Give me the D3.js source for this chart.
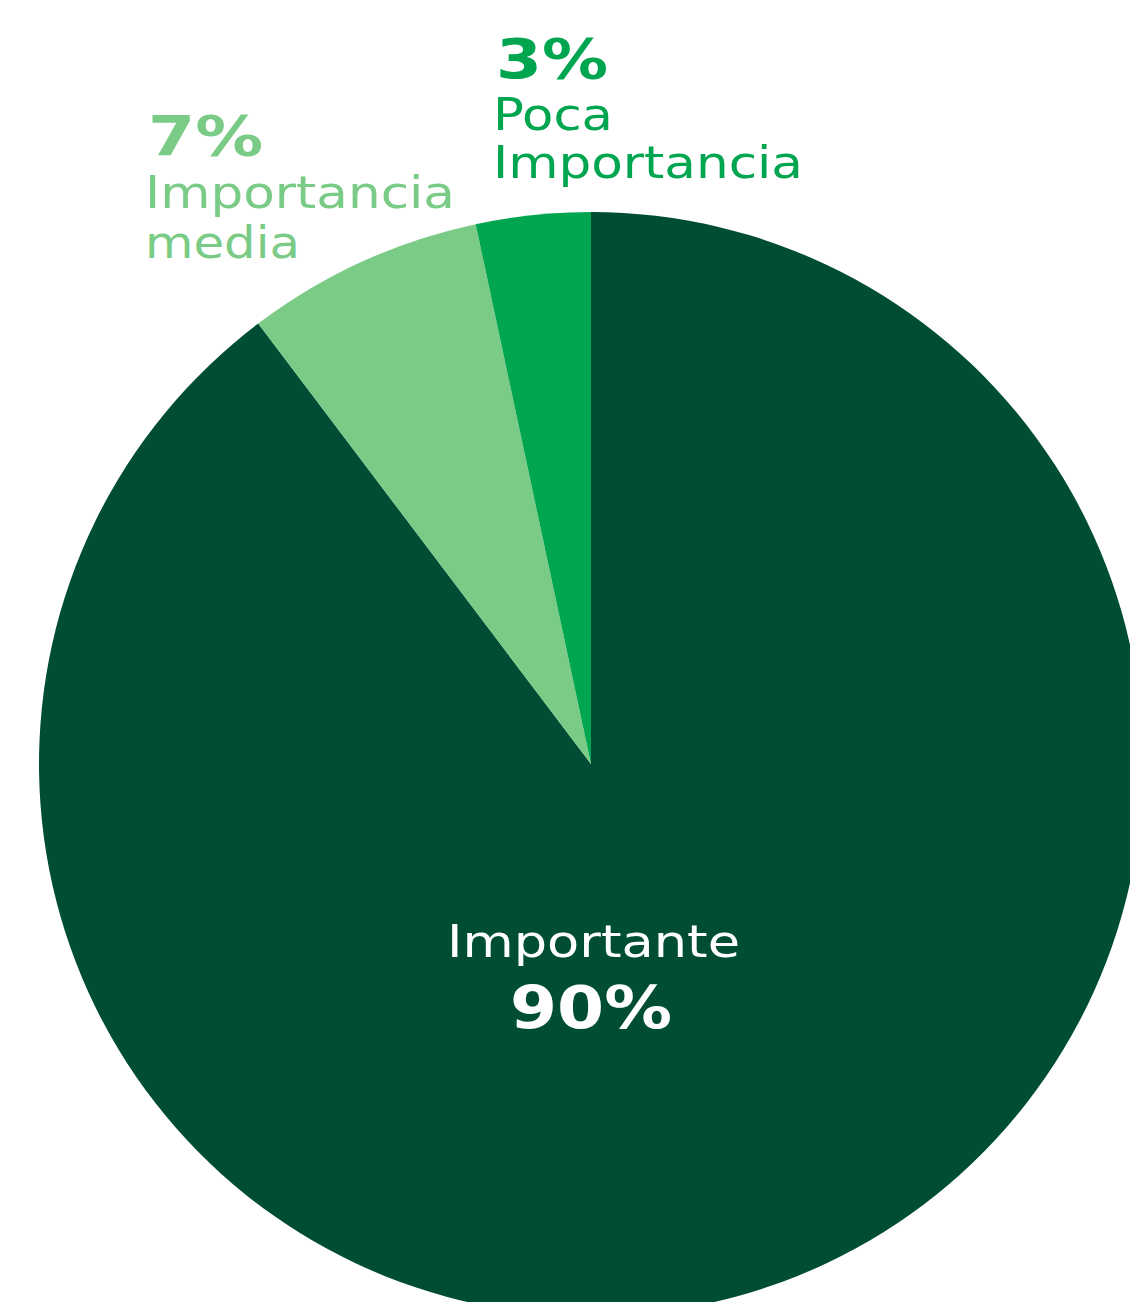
<!DOCTYPE html>
<html><head><meta charset="utf-8">
<script src="https://cdn.jsdelivr.net/npm/d3@7"></script>
<style>html,body{margin:0;padding:0;background:#fff;overflow:hidden}svg{display:block}</style>
</head><body>
<svg id="chart" width="1130" height="1302"></svg>
<script>
const categories = ["Importante", "Importancia media", "Poca Importancia"];
const values = [89.7, 6.95, 3.35];
const labels = ["90%", "7%", "3%"];
const colors = ["#004d35", "#7acb86", "#00a54f"];

const svg = d3.select("#chart");
const cx = 591, cy = 764, r = 552;
const font = "'DejaVu Sans', sans-serif";

const pie = d3.pie().sort(null).value(d => d)(values);
const arc = d3.arc().innerRadius(0).outerRadius(r);
const g = svg.append("g").attr("transform", `translate(${cx},${cy})`);
g.selectAll("path").data(pie).join("path")
  .attr("d", arc).attr("fill", (d, i) => colors[i]);

function fit(sel, w) {
  if (sel.node().getComputedTextLength() > 0) sel.attr("textLength", w).attr("lengthAdjust", "spacingAndGlyphs");
  return sel;
}

// Center label (Importante)
fit(svg.append("text").attr("x", 447).attr("y", 957)
  .attr("font-family", font).attr("font-size", 45).attr("fill", "#fff")
  .text(categories[0]), 293);
fit(svg.append("text").attr("x", 510).attr("y", 1028)
  .attr("font-family", font).attr("font-weight", 700).attr("font-size", 58).attr("fill", "#fff")
  .text(labels[0]), 162);

// Importancia media
fit(svg.append("text").attr("x", 148).attr("y", 155)
  .attr("font-family", font).attr("font-weight", 700).attr("font-size", 56).attr("fill", colors[1])
  .text(labels[1]), 115);
fit(svg.append("text").attr("x", 145).attr("y", 208).attr("font-family", font).attr("font-size", 45).attr("fill", colors[1])
  .text("Importancia"), 310);
fit(svg.append("text").attr("x", 145).attr("y", 258).attr("font-family", font).attr("font-size", 45).attr("fill", colors[1])
  .text("media"), 155);

// Poca Importancia
fit(svg.append("text").attr("x", 496).attr("y", 78)
  .attr("font-family", font).attr("font-weight", 700).attr("font-size", 56).attr("fill", colors[2])
  .text(labels[2]), 112);
fit(svg.append("text").attr("x", 493).attr("y", 130).attr("font-family", font).attr("font-size", 45).attr("fill", colors[2])
  .text("Poca"), 120);
fit(svg.append("text").attr("x", 493).attr("y", 178).attr("font-family", font).attr("font-size", 45).attr("fill", colors[2])
  .text("Importancia"), 310);
</script>
</body></html>
